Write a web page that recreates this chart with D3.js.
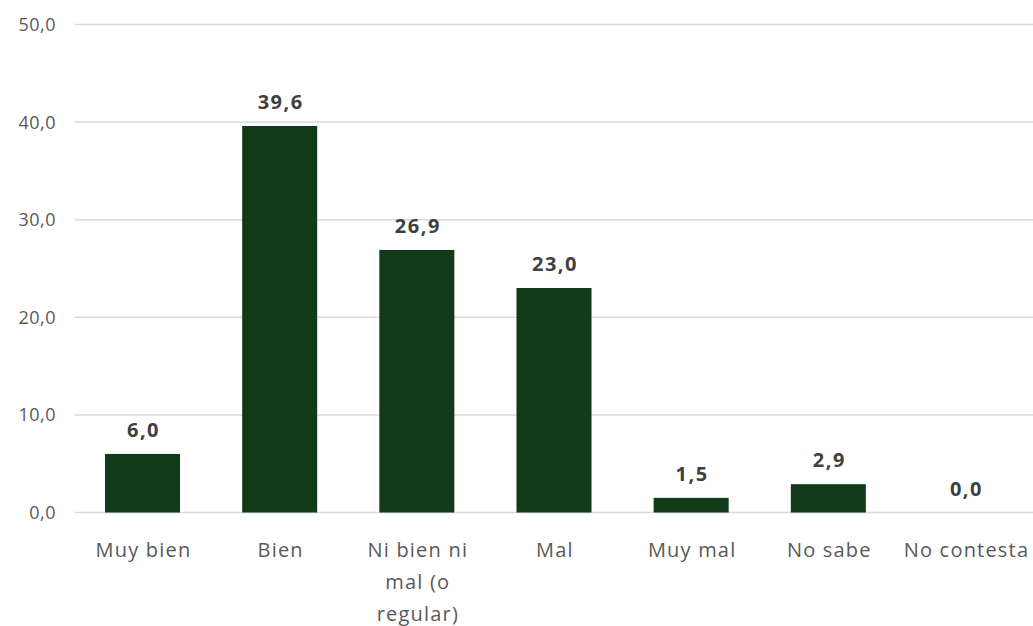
<!DOCTYPE html>
<html><head><meta charset="utf-8">
<script src="https://cdn.jsdelivr.net/npm/d3@7"></script>
<style>body{margin:0;background:#fff}svg{display:block}</style>
</head><body>
<svg id="c" width="1033" height="626"></svg>
<script>
const categories = ["Muy bien","Bien","Ni bien ni mal (o regular)","Mal","Muy mal","No sabe","No contesta"];
const categoryLines = [["Muy bien"],["Bien"],["Ni bien ni","mal (o","regular)"],["Mal"],["Muy mal"],["No sabe"],["No contesta"]];
const values = [6.0,39.6,26.9,23.0,1.5,2.9,0.0];
const yTicks = [0,10,20,30,40,50];

(function(){
const mL=75, mR=1033, mT=24.5, mB=512.5;
const svg=d3.select("#c");
const fmt=v=>d3.format(".1f")(v).replace(".",",");
const x=d3.scaleBand().domain(categories).range([mL-1,mR+1]).paddingInner(0.453).paddingOuter(0.226);
const y=d3.scaleLinear().domain([0,50]).range([mB,mT]);

svg.append("g").selectAll("line").data(yTicks).join("line")
 .attr("x1",mL).attr("x2",mR).attr("y1",d=>y(d)).attr("y2",d=>y(d))
 .attr("stroke","#d9d9d9").attr("stroke-width",1.5);
svg.append("g").selectAll("text").data(yTicks).join("text")
 .attr("x",56).attr("y",d=>y(d)+6.5).attr("text-anchor","end")
 .attr("font-family","Open Sans, sans-serif").attr("font-size",18).attr("letter-spacing",0.5).attr("fill","#595959")
 .text(fmt);

svg.append("g").selectAll("rect").data(values).join("rect")
 .attr("x",(d,i)=>x(categories[i])).attr("width",x.bandwidth())
 .attr("y",d=>y(d)).attr("height",d=>mB-y(d)).attr("fill","#133a18");

svg.append("g").selectAll("text").data(values).join("text")
 .attr("x",(d,i)=>x(categories[i])+x.bandwidth()/2+1).attr("y",d=>y(d)-17)
 .attr("text-anchor","middle").attr("font-family","Open Sans, sans-serif").attr("font-weight","bold")
 .attr("font-size",20).attr("letter-spacing",1.5).attr("fill","#404040").text(fmt);

const g=svg.append("g").selectAll("text").data(categories).join("text")
 .attr("text-anchor","middle").attr("font-family","Open Sans, sans-serif").attr("font-size",20).attr("letter-spacing",1.2).attr("fill","#595959")
 .attr("x",d=>x(d)+x.bandwidth()/2).attr("y",557);
g.each(function(d,i){
  const t=d3.select(this);
  categoryLines[i].forEach((ln,j)=>t.append("tspan").attr("x",x(d)+x.bandwidth()/2+1).attr("y",557+j*32).text(ln));
});
})();
</script>
</body></html>
